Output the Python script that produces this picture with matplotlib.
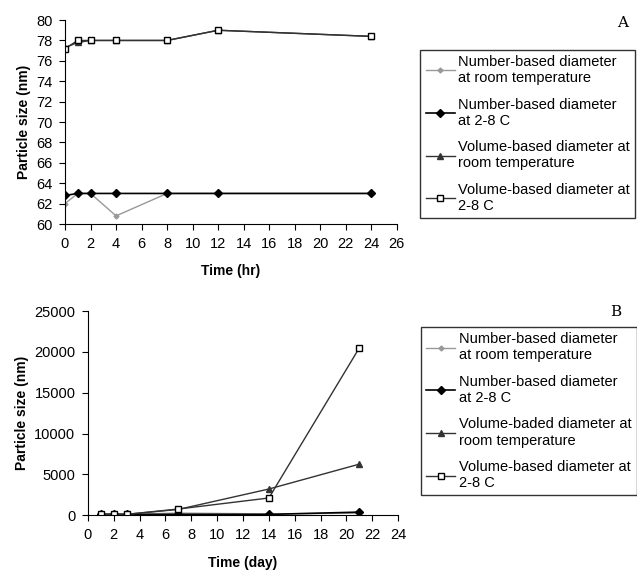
import numpy as np
import matplotlib.pyplot as plt

plt.rcParams['font.family'] = ['Liberation Sans', 'DejaVu Sans']

# panel A: hours
hrs = [0, 1, 2, 4, 8, 12, 24]
numA_room = [62.0, 63.0, 63.0, 60.8, 63.0, 63.0, 63.0]
numA_cold = [62.8, 63.0, 63.0, 63.0, 63.0, 63.0, 63.0]
volA_room = [77.3, 77.8, 78.0, 78.0, 78.0, 79.0, 78.4]
volA_cold = [77.2, 78.0, 78.0, 78.0, 78.0, 79.0, 78.4]

# panel B: days
days = [1, 2, 3, 7, 14, 21]
numB_room = [120, 110, 110, 250, 150, 250]
numB_cold = [80, 80, 80, 100, 90, 370]
volB_room = [100, 100, 100, 700, 3200, 6250]
volB_cold = [100, 100, 100, 750, 2100, 20500]

labelsA = ['Number-based diameter\nat room temperature',
           'Number-based diameter\nat 2-8 C',
           'Volume-based diameter at\nroom temperature',
           'Volume-based diameter at\n2-8 C']
labelsB = ['Number-based diameter\nat room temperature',
           'Number-based diameter\nat 2-8 C',
           'Volume-baded diameter at\nroom temperature',
           'Volume-based diameter at\n2-8 C']

fig = plt.figure(figsize=(6.37, 5.73), dpi=100)
axA = fig.add_axes([0.102, 0.609, 0.521, 0.356])
axB = fig.add_axes([0.138, 0.101, 0.487, 0.356])


def draw(ax, x, series, labels):
    styles = [dict(color='#999999', marker='D', ms=2.5, lw=1.0, mfc='#999999', mec='#999999'),
              dict(color='black', marker='D', ms=4, lw=1.2),
              dict(color='#333333', marker='^', ms=5, lw=1.0),
              dict(color='#333333', marker='s', ms=5, lw=1.0, mfc='white', mec='black')]
    for y, st, lab in zip(series, styles, labels):
        ax.plot(x, y, label=lab, **st)
    for s in ['top', 'right']:
        ax.spines[s].set_visible(False)
    ax.tick_params(direction='out', labelsize=10.5, length=4, pad=5)


draw(axA, hrs, [numA_room, numA_cold, volA_room, volA_cold], labelsA)
axA.set_xlim(0, 26)
axA.set_ylim(60, 80)
axA.set_xticks(np.arange(0, 27, 2))
axA.set_yticks(np.arange(60, 81, 2))
axA.set_xlabel('Time (hr)', fontweight='bold', fontsize=10, labelpad=10)
axA.set_ylabel('Particle size (nm)', fontweight='bold', fontsize=10)

draw(axB, days, [numB_room, numB_cold, volB_room, volB_cold], labelsB)
axB.set_xlim(0, 24)
axB.set_ylim(0, 25000)
axB.set_xticks(np.arange(0, 25, 2))
axB.set_yticks(np.arange(0, 25001, 5000))
axB.set_xlabel('Time (day)', fontweight='bold', fontsize=10, labelpad=10)
axB.set_ylabel('Particle size (nm)', fontweight='bold', fontsize=10)

for ax, anchor in [(axA, (0.66, 0.913)), (axB, (0.661, 0.429))]:
    leg = ax.legend(loc='upper left', bbox_to_anchor=anchor, bbox_transform=fig.transFigure,
                    fontsize=10.5, frameon=True, fancybox=False, edgecolor='black',
                    handlelength=2.0, handletextpad=0.25, labelspacing=0.85, borderpad=0.35,
                    borderaxespad=0)
    leg.get_frame().set_linewidth(1.0)

fig.text(0.978, 0.96, 'A', fontsize=11, family='DejaVu Serif', ha='center', va='center')
fig.text(0.966, 0.455, 'B', fontsize=11, family='DejaVu Serif', ha='center', va='center')

plt.savefig('out.png', dpi=100)
